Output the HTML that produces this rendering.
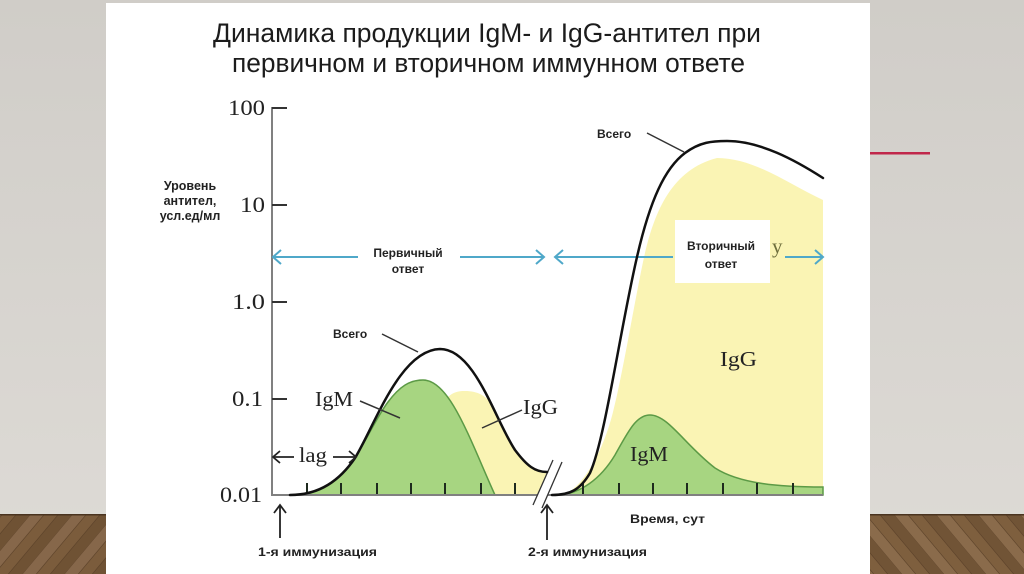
<!DOCTYPE html>
<html>
<head>
<meta charset="utf-8">
<style>
html,body{margin:0;padding:0;background:#d6d3ce;}
svg{display:block;}
.sans{font-family:"Liberation Sans","Noto Sans CJK SC",sans-serif;}
.serif{font-family:"Liberation Serif","Noto Serif CJK SC",serif;}
</style>
</head>
<body>
<svg width="1024" height="574" viewBox="0 0 1024 574" xmlns="http://www.w3.org/2000/svg">
  <defs>
    <linearGradient id="bg" x1="0" y1="0" x2="0" y2="1">
      <stop offset="0" stop-color="#d0cdc8"/>
      <stop offset="1" stop-color="#dedbd6"/>
    </linearGradient>
    <pattern id="woodL" width="42" height="60" patternUnits="userSpaceOnUse" patternTransform="skewX(-40)">
      <rect width="42" height="60" fill="#7b5c3c"/>
      <rect x="0" width="14" height="60" fill="#86674a"/>
      <rect x="28" width="14" height="60" fill="#6f5234"/>
      <line x1="14" y1="0" x2="14" y2="60" stroke="#5a4028" stroke-width="0.8"/>
      <line x1="28" y1="0" x2="28" y2="60" stroke="#5a4028" stroke-width="0.8"/>
      <line x1="0" y1="0" x2="0" y2="60" stroke="#5a4028" stroke-width="0.8"/>
    </pattern>
    <pattern id="woodR" width="42" height="60" patternUnits="userSpaceOnUse" patternTransform="skewX(40)">
      <rect width="42" height="60" fill="#7e5f3e"/>
      <rect x="0" width="14" height="60" fill="#8a6b4b"/>
      <rect x="28" width="14" height="60" fill="#715436"/>
      <line x1="14" y1="0" x2="14" y2="60" stroke="#5a4028" stroke-width="0.8"/>
      <line x1="28" y1="0" x2="28" y2="60" stroke="#5a4028" stroke-width="0.8"/>
      <line x1="0" y1="0" x2="0" y2="60" stroke="#5a4028" stroke-width="0.8"/>
    </pattern>
  </defs>

  <!-- background -->
  <rect x="0" y="0" width="1024" height="574" fill="url(#bg)"/>
  <rect x="0" y="514" width="106" height="60" fill="url(#woodL)"/>
  <rect x="870" y="514" width="154" height="60" fill="url(#woodR)"/>
  <rect x="0" y="514" width="106" height="1.5" fill="#4a3420"/>
  <rect x="870" y="514" width="154" height="1.5" fill="#4a3420"/>
  <!-- red accent line -->
  <rect x="870" y="152" width="60" height="2.5" fill="#c0274a"/>
  <!-- white slide -->
  <rect x="106" y="3" width="764" height="571" fill="#ffffff"/>

  <!-- title -->
  <text class="sans" x="213" y="42" font-size="26.5" fill="#1c1c1c" textLength="548" lengthAdjust="spacingAndGlyphs">Динамика продукции IgM- и IgG-антител при</text>
  <text class="sans" x="232" y="72" font-size="26.5" fill="#1c1c1c" textLength="513" lengthAdjust="spacingAndGlyphs">первичном и вторичном иммунном ответе</text>

  <!-- y axis label -->
  <g class="sans" font-weight="bold" font-size="12.5" fill="#222" text-anchor="middle">
    <text x="190" y="190">Уровень</text>
    <text x="190" y="205">антител,</text>
    <text x="190" y="220">усл.ед/мл</text>
  </g>

  <!-- y tick labels -->
  <g class="serif" font-size="22" fill="#222">
    <text x="228" y="115" textLength="37" lengthAdjust="spacingAndGlyphs">100</text>
    <text x="240" y="212" textLength="25" lengthAdjust="spacingAndGlyphs">10</text>
    <text x="232" y="309" textLength="33" lengthAdjust="spacingAndGlyphs">1.0</text>
    <text x="232" y="406" textLength="31" lengthAdjust="spacingAndGlyphs">0.1</text>
    <text x="220" y="502" textLength="42" lengthAdjust="spacingAndGlyphs">0.01</text>
  </g>

  <!-- secondary fills -->
  <path d="M 562 495 C 582 490, 603 452, 613 412 C 623 372, 633 310, 643 262 C 653 215, 670 170, 717 158 C 755 158, 790 185, 823 200 L 823 495 Z" fill="#faf4b4"/>
  <path d="M 560 495 C 580 493, 600 480, 615 455 C 628 432, 636 415, 650 415 C 668 415, 685 445, 715 468 C 740 484, 780 487, 823 487 L 823 495 Z" fill="#a7d581" stroke="#5c9a46" stroke-width="1.5"/>

  <!-- primary fills -->
  <path d="M 445 400 C 452 392, 458 391, 465 391 C 478 391, 485 396, 490 402 L 515 450 C 527 466, 535 472, 547 472 L 537 495 L 445 495 Z" fill="#faf4b4"/>
  <path d="M 295 495 C 320 495, 340 480, 355 458 C 368 437, 378 415, 388 402 C 400 386, 410 380, 423 380 C 450 380, 470 440, 495 495 Z" fill="#a7d581" stroke="#5c9a46" stroke-width="1.5"/>

  <!-- x ticks -->
  <g stroke="#1e2a1e" stroke-width="2">
    <line x1="307" y1="483" x2="307" y2="495"/>
    <line x1="341" y1="483" x2="341" y2="495"/>
    <line x1="377" y1="483" x2="377" y2="495"/>
    <line x1="411" y1="483" x2="411" y2="495"/>
    <line x1="445" y1="483" x2="445" y2="495"/>
    <line x1="481" y1="483" x2="481" y2="495"/>
    <line x1="515" y1="483" x2="515" y2="495"/>
    <line x1="583" y1="483" x2="583" y2="495"/>
    <line x1="619" y1="483" x2="619" y2="495"/>
    <line x1="653" y1="483" x2="653" y2="495"/>
    <line x1="687" y1="483" x2="687" y2="495"/>
    <line x1="723" y1="483" x2="723" y2="495"/>
    <line x1="757" y1="483" x2="757" y2="495"/>
    <line x1="793" y1="483" x2="793" y2="495"/>
  </g>

  <!-- axes -->
  <g stroke="#808080" stroke-width="2" fill="none">
    <line x1="272" y1="107" x2="272" y2="496"/>
    <line x1="271" y1="495" x2="540" y2="495"/>
    <line x1="548" y1="495" x2="823" y2="495"/>
  </g>
  <g stroke="#333" stroke-width="2">
    <line x1="272" y1="108" x2="287" y2="108"/>
    <line x1="272" y1="205" x2="287" y2="205"/>
    <line x1="272" y1="302" x2="287" y2="302"/>
    <line x1="272" y1="399" x2="287" y2="399"/>
  </g>

  <!-- blue response arrows -->
  <g stroke="#4fa8c9" stroke-width="2" fill="none">
    <line x1="273" y1="257" x2="358" y2="257"/>
    <polyline points="281,250 273,257 281,264"/>
    <line x1="460" y1="257" x2="544" y2="257"/>
    <polyline points="536,250 544,257 536,264"/>
    <line x1="555" y1="257" x2="673" y2="257"/>
    <polyline points="563,250 555,257 563,264"/>
    <line x1="785" y1="257" x2="823" y2="257"/>
    <polyline points="815,250 823,257 815,264"/>
  </g>
  <g class="sans" font-weight="bold" font-size="12" fill="#222" text-anchor="middle">
    <text x="408" y="257">Первичный</text>
    <text x="408" y="273">ответ</text>
  </g>

  <!-- secondary white box -->
  <rect x="675" y="220" width="95" height="63" fill="#ffffff"/>
  <g class="sans" font-weight="bold" font-size="12" fill="#222" text-anchor="middle">
    <text x="721" y="250">Вторичный</text>
    <text x="721" y="268">ответ</text>
  </g>
  <text class="serif" x="772" y="253" font-size="21" fill="#6e6e3c">y</text>

  <!-- break slashes -->
  <polygon points="533,505 553,460 562,462 542,508" fill="#ffffff"/>
  <g stroke="#333" stroke-width="1.3">
    <line x1="533" y1="505" x2="553" y2="460"/>
    <line x1="542" y1="508" x2="562" y2="462"/>
  </g>

  <!-- total curves -->
  <g stroke="#111" stroke-width="2.5" fill="none" stroke-linecap="round">
    <path d="M 290 495 C 320 495, 340 480, 355 458 C 375 425, 400 350, 440 349 C 475 349, 495 420, 515 450 C 527 466, 535 472, 547 472"/>
    <path d="M 552 495 C 570 495, 580 490, 590 473 C 605 440, 620 330, 637 257 C 650 200, 665 168, 685 153 C 700 142, 712 141, 727 141 C 760 141, 795 160, 823 178"/>
  </g>

  <!-- leader lines -->
  <g stroke="#333" stroke-width="1.5">
    <line x1="382" y1="334" x2="418" y2="352"/>
    <line x1="360" y1="401" x2="400" y2="418"/>
    <line x1="482" y1="428" x2="522" y2="410"/>
    <line x1="647" y1="133" x2="684" y2="152"/>
  </g>

  <!-- curve labels -->
  <g class="sans" font-weight="bold" font-size="12" fill="#222">
    <text x="333" y="338">Всего</text>
    <text x="597" y="138">Всего</text>
  </g>
  <g class="serif" font-size="21" fill="#222">
    <text x="315" y="406" textLength="38" lengthAdjust="spacingAndGlyphs">IgM</text>
    <text x="523" y="414" textLength="35" lengthAdjust="spacingAndGlyphs">IgG</text>
    <text x="720" y="366" textLength="37" lengthAdjust="spacingAndGlyphs">IgG</text>
    <text x="630" y="461" textLength="38" lengthAdjust="spacingAndGlyphs">IgM</text>
    <text x="299" y="462" textLength="28" lengthAdjust="spacingAndGlyphs">lag</text>
  </g>

  <!-- lag arrows -->
  <g stroke="#222" stroke-width="1.8" fill="none">
    <line x1="273" y1="457" x2="294" y2="457"/>
    <polyline points="280,451 273,457 280,463"/>
    <line x1="333" y1="457" x2="356" y2="457"/>
    <polyline points="349,451 356,457 349,463"/>
  </g>

  <!-- immunization arrows -->
  <g stroke="#222" stroke-width="1.8" fill="none">
    <line x1="280" y1="505" x2="280" y2="538"/>
    <polyline points="274,513 280,505 286,513"/>
    <line x1="547" y1="505" x2="547" y2="540"/>
    <polyline points="541,513 547,505 553,513"/>
  </g>
  <g class="sans" font-weight="bold" font-size="12" fill="#222">
    <text x="258" y="556" textLength="119" lengthAdjust="spacingAndGlyphs">1-я иммунизация</text>
    <text x="528" y="556" textLength="119" lengthAdjust="spacingAndGlyphs">2-я иммунизация</text>
    <text x="630" y="523" textLength="75" lengthAdjust="spacingAndGlyphs">Время, сут</text>
  </g>
</svg>
</body>
</html>
